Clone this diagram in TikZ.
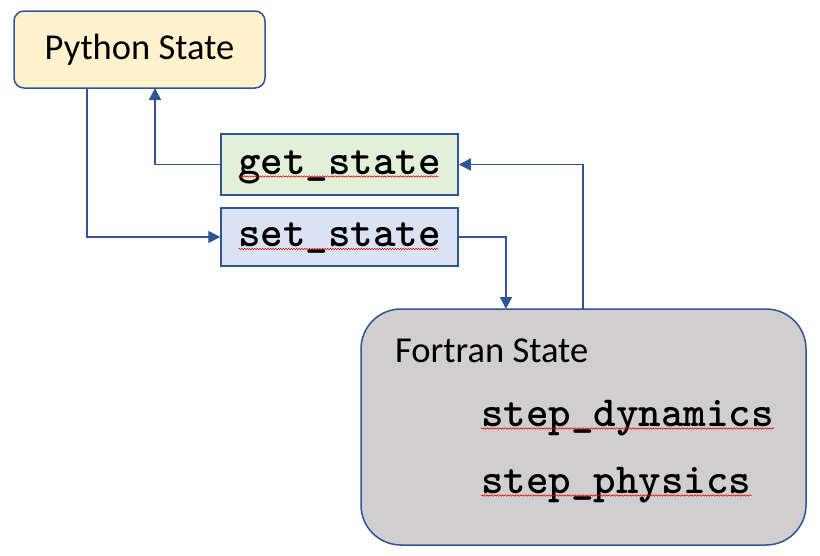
\documentclass[tikz,border=0pt]{standalone}
\usepackage{fontspec}
\setmainfont{Carlito}
\usetikzlibrary{arrows.meta,decorations.pathmorphing}

\definecolor{edgeblue}{HTML}{2F5597}
\definecolor{pycream}{HTML}{FFF2CC}
\definecolor{getgreen}{HTML}{E2F0D9}
\definecolor{setblue}{HTML}{DAE3F3}
\definecolor{fortgray}{HTML}{D0CECE}

\newcommand{\codefont}{\fontsize{42.9}{44}\ttfamily\bfseries}

\tikzset{
  box/.style={draw=edgeblue, line width=1.5pt, inner sep=0pt,
    text height=26pt, text depth=7pt},
  codebox/.style={box, minimum width=237pt, font=\codefont},
  link/.style={draw=edgeblue, line width=1.4pt,
    -{Triangle[length=12pt,width=12pt]}},
  squiggle/.style={draw=red!85!black, line width=0.5pt,
    decorate, decoration={snake, amplitude=0.7pt, segment length=2.6pt}}
}

\begin{document}
\begin{tikzpicture}[x=1pt, y=-1pt]
  \useasboundingbox (0,0) rectangle (820,555);

  % Boxes
  \node[box, fill=pycream, rounded corners=10pt, minimum width=251pt, minimum height=77pt,
    font=\fontsize{36.5}{40}\selectfont] (python) at (139.5,49.5) {Python State};
  \node[codebox, fill=getgreen, minimum height=61pt] (get) at (339.5,164.5) {get\_state};
  \node[codebox, fill=setblue, minimum height=58pt] (set) at (339.5,237) {set\_state};
  \node[box, fill=fortgray, rounded corners=40pt, minimum width=445pt, minimum height=236pt]
    (fortran) at (583.5,427) {};

  % Fortran contents
  \node[anchor=base west, inner sep=0pt, font=\fontsize{36.5}{40}\selectfont]
    (ftitle) at (395,362) {Fortran State};
  \node[anchor=base west, inner sep=0pt, font=\codefont]
    (fdyn) at (481,426) {step\_dynamics};
  \node[anchor=base west, inner sep=0pt, font=\codefont]
    (fphys) at (481,493) {step\_physics};

  % Spell-check marks
  \draw[squiggle] ([xshift=-101pt,yshift=-2.5pt]get.base) -- ([xshift=99pt,yshift=-2.5pt]get.base);
  \draw[squiggle] ([xshift=-101pt,yshift=-2.5pt]set.base) -- ([xshift=99pt,yshift=-2.5pt]set.base);
  \draw[squiggle] ([yshift=-2.5pt]fdyn.base west) -- ([yshift=-2.5pt]fdyn.base east);
  \draw[squiggle] ([yshift=-2.5pt]fphys.base west) -- ([yshift=-2.5pt]fphys.base east);

  % Connector ends on box edges
  \coordinate (pyout) at (87,88);
  \coordinate (pyin) at (155,88);
  \coordinate (fin) at (506,309);
  \coordinate (fout) at (583,309);

  % Connectors
  \draw[link] (pyout) |- (set.west);
  \draw[link] (get.west) -| (pyin);
  \draw[link] (set.east) -| (fin);
  \draw[link] (fout) |- (get.east);
\end{tikzpicture}
\end{document}
